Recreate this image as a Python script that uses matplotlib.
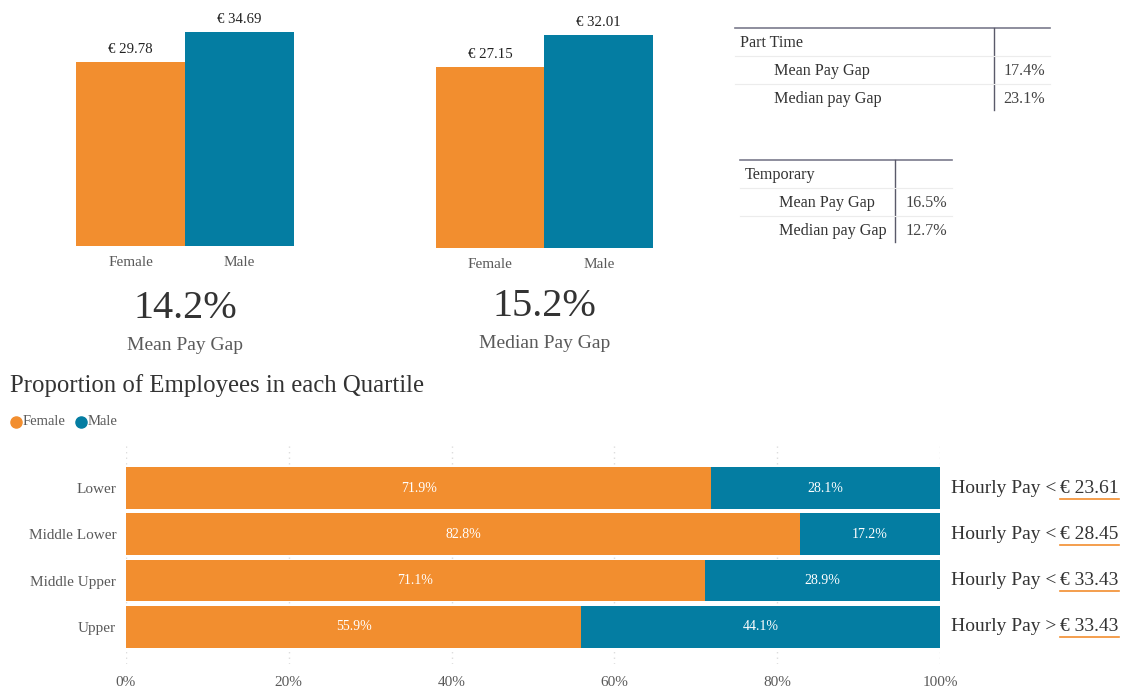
import matplotlib
matplotlib.use("Agg")
import matplotlib.pyplot as plt
from matplotlib.lines import Line2D

# values
genders = ["Female", "Male"]
mean_pay = [29.78, 34.69]
median_pay = [27.15, 32.01]
mean_gap = 14.2
median_gap = 15.2

gap_rows = ["Mean Pay Gap", "Median pay Gap"]
part_time_gap = [17.4, 23.1]
temporary_gap = [16.5, 12.7]

quartiles = ["Lower", "Middle Lower", "Middle Upper", "Upper"]
female_pct = [71.9, 82.8, 71.1, 55.9]
male_pct = [28.1, 17.2, 28.9, 44.1]
pay_sign = ["<", "<", "<", ">"]
pay_limit = [23.61, 28.45, 33.43, 33.43]

ORANGE = "#F28E2F"
TEAL = "#047DA2"
GREY = "#5a5a5a"
DARK = "#333333"
FONT = ["Liberation Serif", "DejaVu Serif"]

W, H = 1124, 691
plt.rcParams["font.family"] = FONT

fig = plt.figure(figsize=(W / 100, H / 100), dpi=100)


def px_axes(x0, y0, x1, y1):
    return fig.add_axes([x0 / W, 1 - y1 / H, (x1 - x0) / W, (y1 - y0) / H])


def ftext(x, y, s, **kw):
    return fig.text(x / W, 1 - y / H, s, **kw)


def fline(x0, y0, x1, y1, **kw):
    fig.add_artist(Line2D([x0 / W, x1 / W], [1 - y0 / H, 1 - y1 / H], **kw))


def pay_bars(box, values, gap, gap_label, label_y):
    ax = px_axes(*box)
    bars = ax.bar([0, 1], values, width=1.0, color=[ORANGE, TEAL])
    ax.set_xlim(-0.5, 1.5)
    top = max(values) * (box[3] - box[1]) / (box[3] - box[1] - 22)
    ax.set_ylim(0, top)
    for b, v in zip(bars, values):
        ax.text(b.get_x() + b.get_width() / 2, v + top * 0.025, f"€ {v:.2f}",
                ha="center", va="bottom", fontsize=10.7, color="#222222")
    ax.set_xticks([0, 1], genders)
    ax.tick_params(axis="x", length=0, pad=7, labelsize=11, labelcolor=GREY)
    ax.set_yticks([])
    for s in ax.spines.values():
        s.set_visible(False)
    cx = (box[0] + box[2]) / 2
    ftext(cx, label_y, f"{gap}%", ha="center", va="center", fontsize=29, color=DARK)
    ftext(cx, label_y + 38, gap_label, ha="center", va="center", fontsize=14, color=GREY)


pay_bars((76, 10, 294, 246), mean_pay, mean_gap, "Mean Pay Gap", 308)
pay_bars((436, 13, 653, 248), median_pay, median_gap, "Median Pay Gap", 306)


def gap_table(x0, x1, xv, y0, title, values, indent):
    row = 28
    fline(x0, y0, x1, y0, color="#7a7a8c", lw=1.2)
    fline(xv, y0, xv, y0 + 3 * row - 2, color="#5a5a6a", lw=1.0)
    for i in range(1, 3):
        fline(x0, y0 + i * row, x1, y0 + i * row, color="#ececec", lw=0.8)
    ftext(x0 + 5, y0 + row / 2 + 1, title, ha="left", va="center", fontsize=11.6, color=DARK)
    for i, (name, v) in enumerate(zip(gap_rows, values)):
        yy = y0 + (i + 1.5) * row + 1
        ftext(x0 + indent, yy, name, ha="left", va="center", fontsize=11.6, color=DARK)
        ftext(x1 - 5, yy, f"{v}%", ha="right", va="center", fontsize=11.6, color="#444444")


gap_table(735, 1050, 994, 28, "Part Time", part_time_gap, 39)
gap_table(740, 952, 895, 160, "Temporary", temporary_gap, 39)

# quartile section
ftext(10, 386, "Proportion of Employees in each Quartile", ha="left", va="center",
      fontsize=17.8, color=DARK)
for x, name, col in [(16, "Female", ORANGE), (81, "Male", TEAL)]:
    fig.add_artist(Line2D([x / W], [1 - 422 / H], marker="o", markersize=8,
                          color=col, linestyle="none"))
    ftext(x + 7, 422, name, ha="left", va="center", fontsize=10.5, color=GREY)

ax = px_axes(126, 444, 940, 664)
ypos = list(range(len(quartiles)))
ax.barh(ypos, female_pct, height=0.9, color=ORANGE, zorder=2)
ax.barh(ypos, male_pct, left=female_pct, height=0.9, color=TEAL, zorder=2)
for y, f, m in zip(ypos, female_pct, male_pct):
    ax.text(f / 2, y, f"{f}%", ha="center", va="center", color="white", fontsize=10, zorder=3)
    ax.text(f + m / 2, y, f"{m}%", ha="center", va="center", color="white", fontsize=10, zorder=3)
ax.set_xlim(0, 100)
ax.set_ylim(3.8, -0.95)
ax.set_yticks(ypos, quartiles)
ax.set_xticks(range(0, 101, 20), [f"{t}%" for t in range(0, 101, 20)])
ax.tick_params(length=0, labelsize=11, labelcolor=GREY)
ax.tick_params(axis="y", pad=7)
ax.tick_params(axis="x", pad=9)
ax.grid(axis="x", color="#dddddd", linestyle=(0, (1, 3)), lw=1, zorder=0)
for s in ax.spines.values():
    s.set_visible(False)

fig.canvas.draw()
renderer = fig.canvas.get_renderer()
for y, sign, lim in zip(ypos, pay_sign, pay_limit):
    yy = ax.transData.transform((0, y))[1]
    yf = yy / H
    t1 = fig.text(951 / W, yf, f"Hourly Pay {sign}", ha="left", va="center",
                  fontsize=14, color=DARK)
    bb = t1.get_window_extent(renderer)
    t2 = fig.text((bb.x1 + 4) / W, yf, f"€ {lim:.2f}", ha="left", va="center",
                  fontsize=14, color=DARK)
    bb2 = t2.get_window_extent(renderer)
    uy = bb2.y0 - 2
    fig.add_artist(Line2D([bb2.x0 / W, bb2.x1 / W], [uy / H, uy / H],
                          color=ORANGE, lw=1.2))

fig.savefig("out.png", dpi=100, facecolor="white")
